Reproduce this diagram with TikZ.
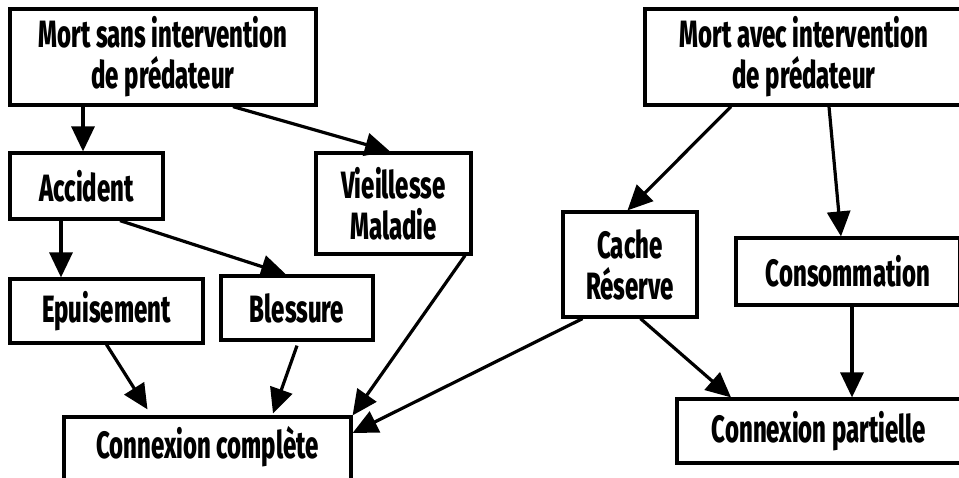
\documentclass[tikz,border=0pt]{standalone}
\usepackage{fontspec}
\usepackage{tikz}
\usetikzlibrary{arrows.meta}
\newfontfamily\boxfont{Fira Sans}[BoldFont={Fira Sans ExtraBold}, FakeStretch=0.63]

\begin{document}
\begin{tikzpicture}[x=1pt, y=-1pt,
  box/.style={draw, line width=3.2pt, rectangle, inner sep=0pt, align=center,
    font=\boxfont\bfseries\fontsize{38}{41}\selectfont},
  arr/.style={line width=3.2pt, -{Triangle[length=25pt,width=23pt]}}]
\useasboundingbox (0,0) rectangle (959,477);

% Left tree
\node[box, minimum width=306pt, minimum height=96pt] (mortsans) at (163,57) {Mort sans intervention\\de prédateur};
\node[box, minimum width=153pt, minimum height=66pt] (accident) at (86.5,186) {Accident};
\node[box, minimum width=155pt, minimum height=101pt] (vieillesse) at (393.5,203.5) {Vieillesse\\Maladie};
\node[box, minimum width=193pt, minimum height=64pt] (epuisement) at (106.5,311) {Epuisement};
\node[box, minimum width=152pt, minimum height=64pt] (blessure) at (297,308) {Blessure};
\node[box, minimum width=287pt, minimum height=64pt, text height=28pt] (complete) at (207.5,449) {Connexion complète};

% Right tree
\node[box, minimum width=318pt, minimum height=96pt] (mortavec) at (804,57) {Mort avec intervention\\de prédateur};
\node[box, minimum width=134pt, minimum height=105pt] (cache) at (630,264.5) {Cache\\Réserve};
\node[box, minimum width=224pt, minimum height=67pt] (conso) at (848,271.5) {Consommation};
\node[box, minimum width=284pt, minimum height=64pt] (partielle) at (819,431) {Connexion partielle};

% Arrows
\draw[arr] ([xshift=-80pt]mortsans.south) -- ([xshift=-3.5pt]accident.north);
\draw[arr] ([xshift=70pt]mortsans.south) -- ([xshift=-3.5pt]vieillesse.north);
\draw[arr] ([xshift=-25.5pt]accident.south) -- ([xshift=-45.5pt]epuisement.north);
\draw[arr] ([xshift=33.5pt]accident.south) -- ([xshift=-11pt]blessure.north);
\draw[arr] (epuisement.south) -- ([xshift=-60pt,yshift=6pt]complete.north);
\draw[arr] ([yshift=-4pt]blessure.south) -- ([xshift=65.5pt,yshift=2pt]complete.north);
\draw[arr] ([xshift=71.5pt]vieillesse.south) -- (complete.north east);
\draw[arr] ([xshift=-47.5pt]cache.south) -- ([yshift=16pt]complete.east);
\draw[arr] ([xshift=10.5pt]cache.south) -- ([xshift=-88pt]partielle.north);
\draw[arr] ([xshift=-73pt]mortavec.south) -- ([xshift=-2.5pt]cache.north);
\draw[arr] ([xshift=25pt]mortavec.south) -- ([xshift=-7pt]conso.north);
\draw[arr] ([xshift=4pt]conso.south) -- ([xshift=33pt]partielle.north);
\end{tikzpicture}
\end{document}
